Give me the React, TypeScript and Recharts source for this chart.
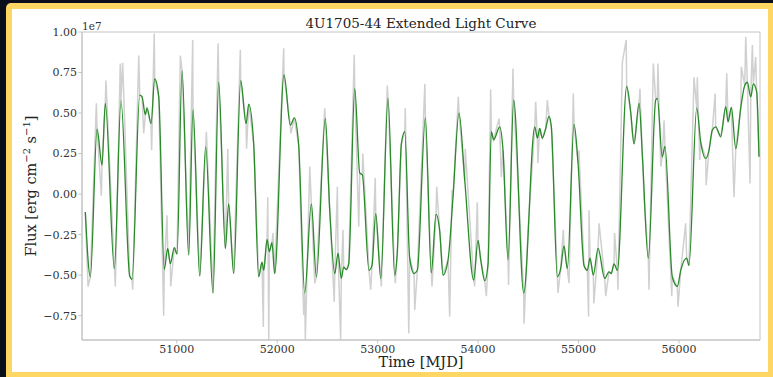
import { LineChart, Line, XAxis, YAxis, ReferenceArea } from 'recharts';

const serif = '"DejaVu Serif", serif';

// smoothed light curve (green), flux in units of 1e7 erg cm^-2 s^-1
const greenMjd = [
  50090, 50140, 50207, 50256, 50289, 50379, 50445, 50532, 50555, 50632,
  50655, 50687, 50704, 50744, 50781, 50821, 50876, 50910, 50936, 50976,
  51003, 51053, 51119, 51162, 51229, 51288, 51361, 51418, 51484, 51517,
  51567, 51637, 51690, 51717, 51766, 51816, 51849, 51866, 51899, 51922,
  51948, 51975, 52068, 52131, 52171, 52214, 52274, 52340, 52390, 52479,
  52523, 52573, 52606, 52638, 52662, 52688, 52712, 52772, 52822, 52847,
  52914, 52944, 52981, 53031, 53103, 53170, 53196, 53236, 53270, 53319,
  53362, 53395, 53475, 53534, 53581, 53618, 53651, 53701, 53750, 53810,
  53867, 53956, 53999, 54026, 54066, 54099, 54131, 54155, 54215, 54248,
  54298, 54354, 54454, 54564, 54590, 54613, 54639, 54673, 54706, 54729,
  54789, 54822, 54855, 54888, 54955, 54995, 55054, 55087, 55114, 55147,
  55194, 55260, 55303, 55326, 55353, 55386, 55479, 55519, 55552, 55602,
  55635, 55694, 55768, 55784, 55833, 55860, 55933, 55983, 56017, 56076,
  56099, 56176, 56216, 56266, 56298, 56331, 56365, 56415, 56465, 56488,
  56521, 56565, 56614, 56654, 56680, 56714, 56740, 56773, 56796,
];
const greenFlux = [
  -0.11, -0.51, 0.4, 0.18, 0.56, -0.46, 0.575, -0.505, -0.525, 0.61,
  0.6, 0.49, 0.53, 0.435, 0.71, 0.6, -0.465, -0.335, -0.43, -0.33,
  -0.37, 0.76, -0.375, 0.52, -0.505, 0.29, -0.61, 0.69, -0.335, -0.06,
  -0.49, 0.7, 0.435, 0.555, 0.31, -0.51, -0.42, -0.47, -0.28, -0.355,
  -0.3, -0.49, 0.735, 0.425, 0.47, 0.3, -0.61, -0.06, -0.51, 0.465,
  -0.1, -0.49, -0.365, -0.52, -0.45, -0.465, -0.43, 0.65, 0.13, 0.12,
  -0.47, -0.44, -0.12, -0.52, 0.59, -0.5, -0.355, 0.31, 0.385, -0.395,
  -0.49, -0.47, 0.47, -0.485, -0.125, -0.23, -0.5, -0.405, -0.02, 0.5,
  0.085, -0.53, -0.285, -0.405, -0.535, -0.43, 0.385, 0.335, 0.415, 0.27,
  -0.405, 0.58, -0.61, 0.415, 0.345, 0.405, 0.345, 0.405, 0.48, 0.415,
  -0.51, -0.46, -0.32, -0.46, 0.43, 0.19, -0.44, -0.47, -0.395, -0.5,
  -0.335, -0.52, -0.48, -0.49, -0.43, -0.47, 0.665, 0.505, 0.31, 0.56,
  0.24, -0.395, 0.58, 0.59, 0.23, 0.295, -0.51, -0.57, -0.47, -0.395,
  -0.44, 0.53, 0.32, 0.22, 0.27, 0.395, 0.415, 0.355, 0.54, 0.445,
  0.535, 0.28, 0.53, 0.67, 0.69, 0.6, 0.68, 0.63, 0.23,
];

// excursions of the raw (grey) curve away from the smooth one
const spikeMjd = [
  50117, 50200, 50250, 50295, 50389, 50438, 50462, 50562, 50622, 50671,
  50750, 50776, 50870, 50903, 50940, 51036, 51159, 51295, 51412, 51508,
  51633, 51695, 51862, 51906, 51916, 51958, 52065, 52136, 52264, 52280,
  52324, 52374, 52473, 52568, 52599, 52632, 52655, 52767, 52812, 52852,
  52931, 52976, 53037, 53096, 53176, 53275, 53310, 53369, 53470, 53541,
  53588, 53717, 53740, 53803, 53872, 53966, 53992, 54082, 54125, 54208,
  54231, 54303, 54347, 54457, 54497, 54573, 54595, 54689, 54795, 54848,
  54905, 54948, 55004, 55100, 55104, 55152, 55204, 55270, 55358, 55392,
  55436, 55474, 55535, 55611, 55651, 55701, 55744, 55790, 55818, 55851,
  55928, 55990, 56066, 56149, 56182, 56206, 56270, 56360, 56475, 56547,
  56620, 56664, 56707, 56730, 56763,
];
const spikeFlux = [
  -0.57, 0.56, -0.01, 0.7, -0.57, 0.805, 0.81, -0.59, 0.855, 0.375,
  0.27, 0.99, -0.75, -0.13, -0.57, 0.855, 0.95, 0.385, 0.93, 0.28,
  0.89, 0.28, -0.82, -0.02, -0.9, -0.24, 0.9, 0.375, -0.745, -0.9,
  0.17, -0.55, 0.53, -0.665, 0.045, -0.9, -0.22, 0.86, -0.2, 0.25,
  -0.59, 0.1, -0.57, 0.67, -0.55, 0.53, -0.86, -0.715, 0.68, -0.57,
  0.045, -0.755, 0.025, 0.6, 0.28, -0.57, -0.05, -0.63, 0.645, 0.465,
  0.105, -0.56, 0.775, -0.8, -0.22, 0.57, 0.19, 0.58, -0.61, -0.22,
  -0.55, 0.62, 0.27, -0.755, -0.1, -0.675, -0.18, -0.63, -0.24, -0.59,
  0.815, 0.95, 0.375, 0.65, -0.02, -0.59, 0.805, 0.805, 0.17, 0.455,
  -0.63, -0.695, -0.18, 0.72, 0.72, 0.21, 0.055, 0.62, 0.745, -0.02,
  0.785, 0.97, 0.065, 0.92, 0.845,
];

const mjdTicks = [51000, 52000, 53000, 54000, 55000, 56000];
const fluxTicks = [-0.75, -0.5, -0.25, 0, 0.25, 0.5, 0.75, 1.0];
const mjdRange = [50057, 56806];
const fluxRange = [-0.9, 1.0];

const smoothed = greenMjd.map((mjd, i) => ({ mjd, flux: greenFlux[i] }));
const raw = [
  ...smoothed,
  ...spikeMjd.map((mjd, i) => ({ mjd, flux: spikeFlux[i] })),
].sort((a, b) => a.mjd - b.mjd);

const fmtFlux = (v: number) => v.toFixed(2).replace('-', '\u2212');

const tickStyle = { fill: '#333', fontSize: 11, fontFamily: serif };

export default function App() {
  return (
    <div
      style={{
        position: 'absolute',
        left: 0,
        top: 0,
        width: 773,
        height: 377,
        background: '#0b0f1c',
        overflow: 'hidden',
      }}
    >
      <div
        style={{
          position: 'absolute',
          left: 6,
          top: 3,
          width: 767,
          height: 374,
          background: '#fdd663',
          borderRadius: '5px 0 0 0',
        }}
      />
      <div
        style={{
          position: 'absolute',
          left: 12,
          top: 9,
          width: 756,
          height: 363,
          background: '#ffffff',
        }}
      />
      <div style={{ position: 'absolute', left: 0, top: 0 }}>
        <LineChart width={773} height={377} margin={{ top: 32, right: 13, bottom: 0, left: 0 }}>
          <XAxis
            dataKey="mjd"
            type="number"
            domain={mjdRange}
            allowDataOverflow
            ticks={mjdTicks}
            interval={0}
            height={37}
            tickSize={3.5}
            tickMargin={2}
            stroke="#c4c4c4"
            tick={tickStyle}
          />
          <YAxis
            type="number"
            domain={fluxRange}
            allowDataOverflow
            ticks={fluxTicks}
            interval={0}
            width={82}
            tickSize={3.5}
            tickMargin={1.5}
            stroke="#c4c4c4"
            tick={tickStyle}
            tickFormatter={fmtFlux}
          />
          <Line
            data={raw}
            dataKey="flux"
            type="linear"
            stroke="#d0d0d0"
            strokeWidth={1.5}
            dot={false}
            isAnimationActive={false}
          />
          <Line
            data={smoothed}
            dataKey="flux"
            type="monotone"
            stroke="#2a8a2a"
            strokeWidth={1.3}
            dot={false}
            isAnimationActive={false}
          />
          <ReferenceArea
            x1={mjdRange[0]}
            x2={mjdRange[1]}
            y1={fluxRange[0]}
            y2={fluxRange[1]}
            fill="none"
            stroke="#c4c4c4"
            strokeWidth={1}
          />
        </LineChart>
      </div>
      <svg
        width={773}
        height={377}
        style={{ position: 'absolute', left: 0, top: 0, pointerEvents: 'none' }}
        fontFamily={serif}
      >
        <text x={421} y={28} textAnchor="middle" fontSize={13.5} fill="#222">
          4U1705-44 Extended Light Curve
        </text>
        <text x={82} y={30} fontSize={10.5} fill="#333">
          1e7
        </text>
        <text x={421} y={367} textAnchor="middle" fontSize={14.5} fill="#222">
          Time [MJD]
        </text>
        <text
          x={36}
          y={186}
          textAnchor="middle"
          fontSize={14.5}
          fill="#222"
          transform="rotate(-90 36 186)"
        >
          Flux [erg cm
          <tspan dy={-6} fontSize={10}>
            {'\u22122'}
          </tspan>
          <tspan dy={6}> s</tspan>
          <tspan dy={-6} fontSize={10}>
            {'\u22121'}
          </tspan>
          <tspan dy={6}>]</tspan>
        </text>
      </svg>
    </div>
  );
}
